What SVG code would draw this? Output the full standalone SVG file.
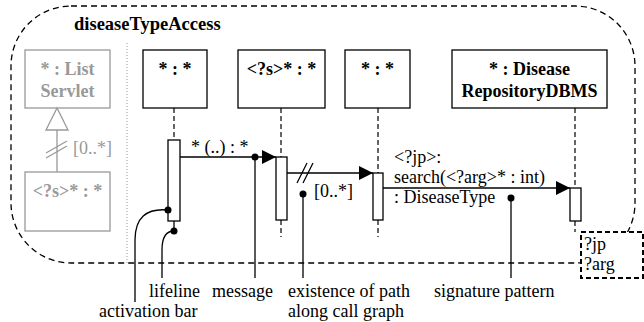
<svg xmlns="http://www.w3.org/2000/svg" width="644" height="322" viewBox="0 0 644 322">
<style>
text{font-family:"Liberation Serif","Times New Roman",serif;font-size:18px;fill:#000}
.b{font-weight:bold}
.g{fill:#999}
.c{text-anchor:middle}
.box{fill:#fff;stroke:#000;stroke-width:1.3}
.gbox{fill:#fff;stroke:#999;stroke-width:1.3}
.life{stroke:#000;stroke-width:1.2;stroke-dasharray:5,3;fill:none}
.bar{fill:#fff;stroke:#000;stroke-width:1.3}
.msg{stroke:#000;stroke-width:1.4;fill:none;marker-end:url(#ah)}
.ln{stroke:#000;stroke-width:1.3;fill:none}
.gl{stroke:#999;stroke-width:1.3;fill:none}
</style>
<defs>
<marker id="ah" markerUnits="userSpaceOnUse" markerWidth="15" markerHeight="14" refX="14" refY="7" orient="auto">
<path d="M0,0 L14,7 L0,14 z" fill="#000"/>
</marker>
</defs>
<g id="frame">
<rect x="11" y="6" width="624" height="257" rx="60" ry="60" fill="none" stroke="#000" stroke-width="1.3" stroke-dasharray="6,4"/>
<text class="b" x="74" y="30" style="font-size:18.5px">diseaseTypeAccess</text>
<line x1="127" y1="43" x2="127" y2="263" stroke="#999" stroke-width="1" stroke-dasharray="1,2"/>
</g>
<g id="listServlet">
<rect class="gbox" x="25" y="50" width="85" height="58"/>
<text class="b g c" x="67.5" y="75">* : List</text>
<text class="b g c" x="67.5" y="97">Servlet</text>
</g>
<g id="sServlet">
<rect class="gbox" x="25" y="172" width="85" height="59"/>
<text class="b g c" x="67.5" y="197">&lt;?s&gt;* : *</text>
</g>
<g id="generalization">
<line class="gl" x1="57" y1="130" x2="57" y2="172"/>
<polygon points="57,108 46,130 68,130" fill="#fff" stroke="#999" stroke-width="1.3"/>
<line class="gl" x1="46" y1="153" x2="67" y2="141"/>
<line class="gl" x1="46" y1="158" x2="67" y2="146"/>
<text class="g" x="73" y="154">[0..*]</text>
</g>
<g id="obj1">
<rect class="box" x="143" y="50" width="64" height="58"/>
<text class="b c" x="175" y="75">* : *</text>
</g>
<g id="obj2">
<rect class="box" x="238" y="50" width="87" height="58"/>
<text class="b c" x="281.5" y="75">&lt;?s&gt;* : *</text>
</g>
<g id="obj3">
<rect class="box" x="345" y="50" width="65" height="58"/>
<text class="b c" x="377.5" y="75">* : *</text>
</g>
<g id="obj4">
<rect class="box" x="452" y="50" width="155" height="58"/>
<text class="b c" x="529.5" y="75">* :  Disease</text>
<text class="b c" x="529.5" y="97">RepositoryDBMS</text>
</g>
<g id="connectors">
<line class="life" x1="174" y1="108" x2="174" y2="140"/>
<line class="ln" x1="174" y1="221" x2="174" y2="231"/>
<line class="life" x1="281" y1="108" x2="281" y2="157"/>
<line class="life" x1="281" y1="220" x2="281" y2="237"/>
<line class="life" x1="378" y1="108" x2="378" y2="173"/>
<line class="life" x1="378" y1="220" x2="378" y2="237"/>
<line class="life" x1="575" y1="108" x2="575" y2="188"/>
<line class="life" x1="575" y1="221" x2="575" y2="232"/>
<rect class="bar" x="168" y="140" width="12" height="81"/>
<rect class="bar" x="276" y="157" width="11" height="63"/>
<rect class="bar" x="373" y="173" width="10" height="47"/>
<rect class="bar" x="570" y="188" width="11" height="33"/>
<line class="msg" x1="180" y1="157" x2="276" y2="157"/>
<text x="191" y="153">* (..) : *</text>
<line class="msg" x1="287" y1="173" x2="373" y2="173"/>
<line class="ln" x1="297" y1="183" x2="307" y2="163"/>
<line class="ln" x1="303" y1="183" x2="313" y2="163"/>
<text x="314" y="197">[0..*]</text>
<line class="msg" x1="383" y1="188" x2="570" y2="188"/>
<text x="394" y="163">&lt;?jp&gt;:</text>
<text x="394" y="183">search(&lt;?arg&gt;* : int)</text>
<text x="394" y="203">: DiseaseType</text>
</g>
<g id="tag">
<rect x="581" y="232" width="62" height="46" fill="#fff" stroke="#000" stroke-width="2" stroke-dasharray="5,3"/>
<text x="584" y="250">?jp</text>
<text x="584" y="270">?arg</text>
</g>
<g id="annotations">
<circle cx="168" cy="210" r="3.5"/>
<path class="ln" d="M168,210 C146,208 135,218 135,240 L135,302"/>
<circle cx="174" cy="231" r="3.5"/>
<path class="ln" d="M174,231 C166,231 162,238 162,250 L162,278"/>
<circle cx="255" cy="157" r="3.5"/>
<line class="ln" x1="255" y1="157" x2="255" y2="278"/>
<circle cx="303" cy="194" r="3.5"/>
<line class="ln" x1="303" y1="194" x2="303" y2="278"/>
<circle cx="511" cy="198" r="3.5"/>
<line class="ln" x1="511" y1="198" x2="511" y2="278"/>
<text x="149" y="297">lifeline</text>
<text x="212" y="297">message</text>
<text x="288" y="297">existence of path</text>
<text x="434" y="297">signature pattern</text>
<text x="99" y="317">activation bar</text>
<text x="288" y="317">along call graph</text>
</g>
</svg>
